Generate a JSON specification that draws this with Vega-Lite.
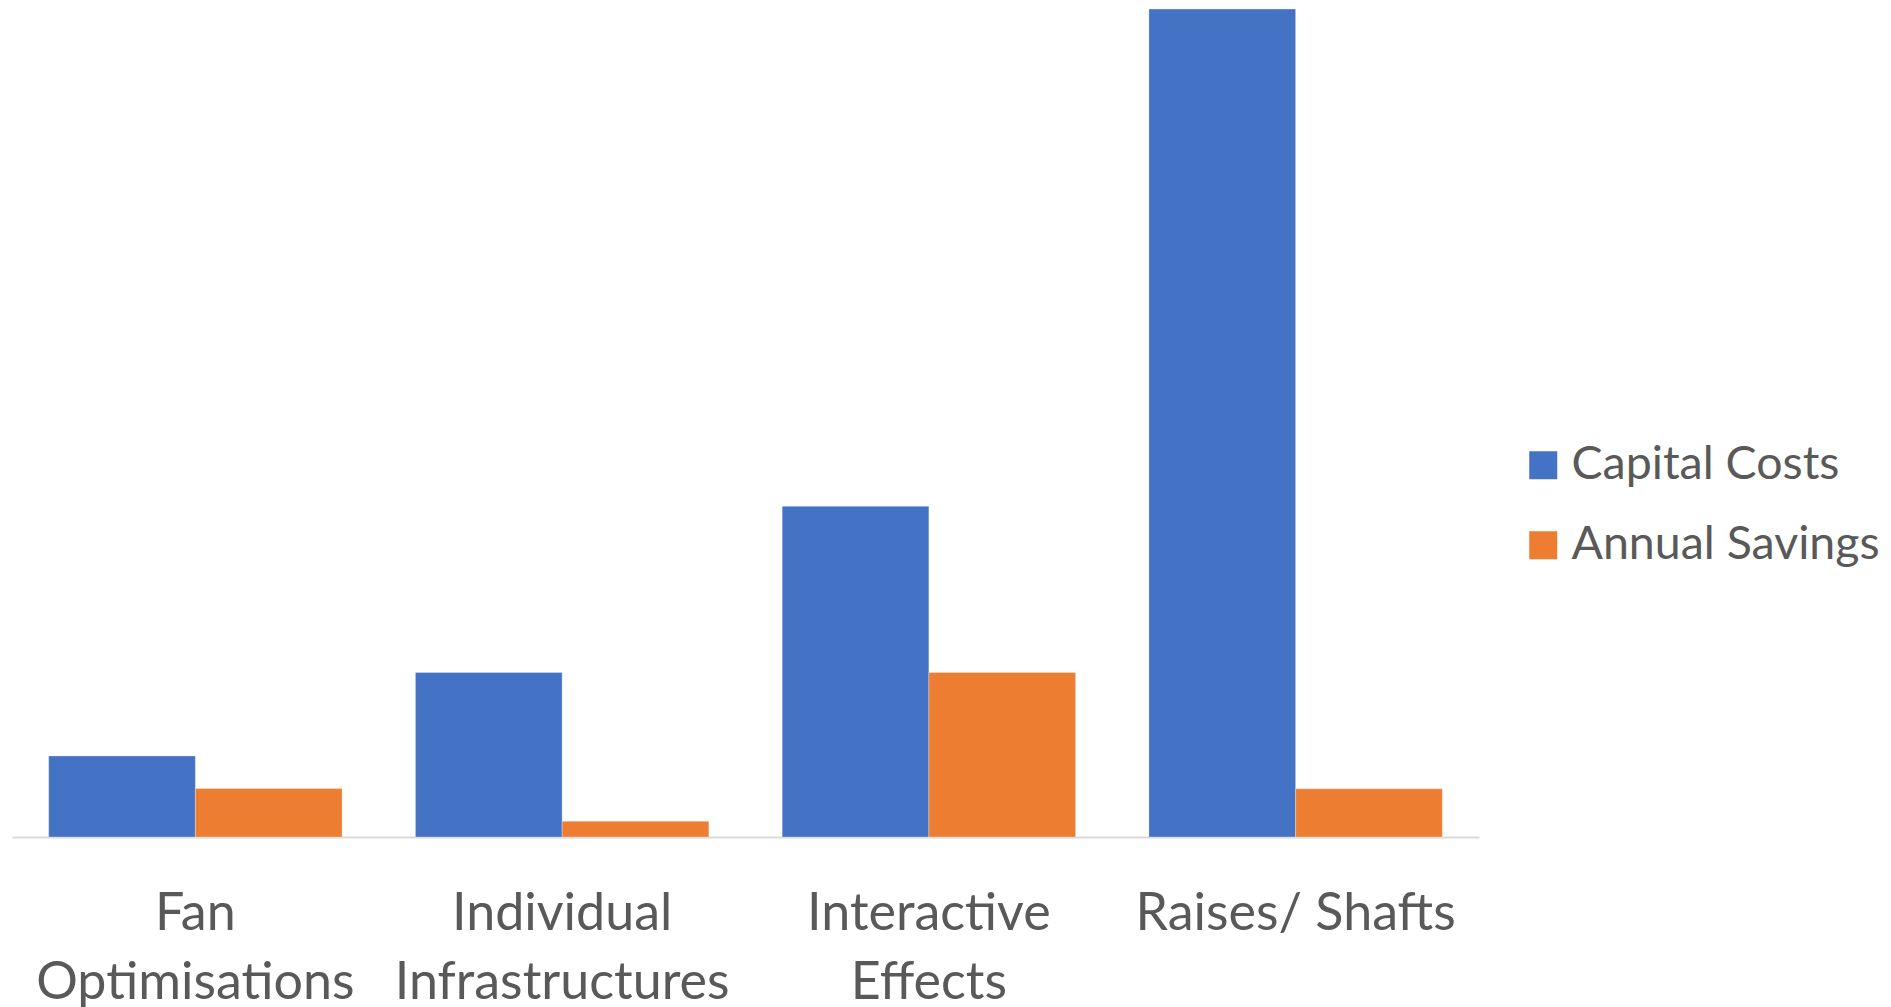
{
  "$schema": "https://vega.github.io/schema/vega-lite/v6.json",
  "autosize": {"type": "none"},
  "width": 1467,
  "height": 828,
  "padding": {"left": 12, "top": 9, "right": 412, "bottom": 170},
  "background": "white",
  "config": {"view": {"stroke": null}, "font": "Lato"},
  "data": {
    "values": [
      {"category": "Fan Optimisations", "series": "Capital Costs", "value": 5.0},
      {"category": "Fan Optimisations", "series": "Annual Savings", "value": 2.99},
      {"category": "Individual Infrastructures", "series": "Capital Costs", "value": 10.15},
      {"category": "Individual Infrastructures", "series": "Annual Savings", "value": 0.97},
      {"category": "Interactive Effects", "series": "Capital Costs", "value": 20.4},
      {"category": "Interactive Effects", "series": "Annual Savings", "value": 10.15},
      {"category": "Raises/ Shafts", "series": "Capital Costs", "value": 51.07},
      {"category": "Raises/ Shafts", "series": "Annual Savings", "value": 2.97}
    ]
  },
  "mark": {"type": "bar", "stroke": "white", "strokeWidth": 0.5, "strokeOpacity": 0.6},
  "encoding": {
    "x": {
      "field": "category",
      "type": "nominal",
      "sort": null,
      "title": null,
      "scale": {"paddingInner": 0.2, "paddingOuter": 0.1},
      "axis": {
        "labelAngle": 0,
        "labelFont": "Lato",
        "labelFontSize": 52,
        "labelColor": "#595959",
        "labelLineHeight": 69,
        "labelPadding": 51,
        "labelLimit": 600,
        "ticks": false,
        "domainColor": "#D9D9D9",
        "domainWidth": 2,
        "grid": false,
        "labelExpr": "datum.value == 'Raises/ Shafts' ? datum.value : split(datum.value, ' ')"
      }
    },
    "xOffset": {"field": "series", "type": "nominal", "sort": ["Capital Costs", "Annual Savings"], "scale": {"paddingInner": 0, "paddingOuter": 0}},
    "y": {
      "field": "value",
      "type": "quantitative",
      "scale": {"domain": [0, 51.07], "nice": false, "zero": true},
      "axis": null
    },
    "color": {
      "field": "series",
      "type": "nominal",
      "sort": ["Capital Costs", "Annual Savings"],
      "scale": {"domain": ["Capital Costs", "Annual Savings"], "range": ["#4472C4", "#ED7D31"]},
      "legend": {
        "title": null,
        "orient": "none",
        "legendX": 1508,
        "legendY": 433,
        "padding": 0,
        "symbolType": "square",
        "symbolSize": 784,
        "symbolStrokeWidth": 0,
        "labelFont": "Lato",
        "labelFontSize": 46.5,
        "labelColor": "#595959",
        "labelOffset": 5,
        "rowPadding": 33,
        "labelLimit": 400
      }
    }
  }
}
